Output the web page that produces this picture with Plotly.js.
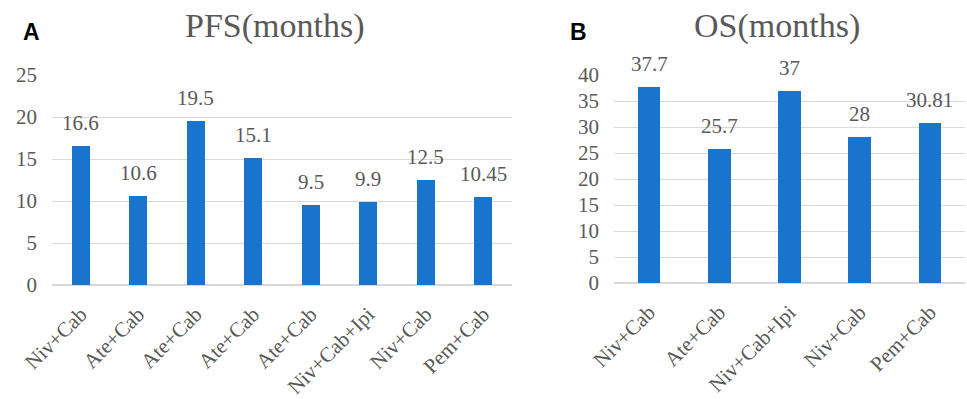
<!DOCTYPE html>
<html>
<head>
<meta charset="utf-8">
<script src="https://cdn.plot.ly/plotly-3.0.1.min.js"></script>
<style>
  html, body { margin: 0; padding: 0; background: #fff; }
  #chart { width: 967px; height: 399px; }
</style>
</head>
<body>
<div id="chart"></div>
<script>
// Panel A: progression-free survival by regimen
const pfsRegimens = ["Niv+Cab", "Ate+Cab", "Ate+Cab", "Ate+Cab", "Ate+Cab", "Niv+Cab+Ipi", "Niv+Cab", "Pem+Cab"];
const pfsMonths = [16.6, 10.6, 19.5, 15.1, 9.5, 9.9, 12.5, 10.45];
const pfsTicks = [0, 5, 10, 15, 20, 25];

// Panel B: overall survival by regimen
const osRegimens = ["Niv+Cab", "Ate+Cab", "Niv+Cab+Ipi", "Niv+Cab", "Pem+Cab"];
const osMonths = [37.7, 25.7, 37, 28, 30.81];
const osTicks = [0, 5, 10, 15, 20, 25, 30, 35, 40];

const BAR = "#1874cd";
const TEXT = "#595959";
const GRID = "#d9d9d9";
const SERIF = "'Liberation Serif', 'Times New Roman', Times, serif";

const idx = arr => arr.map((_, i) => i);

const pfsX = idx(pfsRegimens);
const osX = idx(osRegimens);

const traces = [
  {
    type: "bar", x: pfsX, y: pfsMonths, xaxis: "x", yaxis: "y",
    marker: { color: BAR }, width: 0.31, hoverinfo: "skip"
  },
  {
    type: "bar", x: osX, y: osMonths, xaxis: "x2", yaxis: "y2",
    marker: { color: BAR }, width: 0.32, hoverinfo: "skip"
  }
];

const valueLabels = (xs, ys, xref, yref) => xs.map((x, i) => ({
  x: x, y: ys[i], xref: xref, yref: yref,
  text: String(ys[i]), showarrow: false,
  yanchor: "bottom", yshift: 9,
  font: { family: SERIF, size: 21, color: TEXT }
}));

const baseY = {
  showgrid: true, gridcolor: GRID, gridwidth: 1,
  zeroline: true, zerolinecolor: GRID, zerolinewidth: 2,
  showline: false, ticks: "", ticklabelstandoff: 14,
  tickfont: { family: SERIF, size: 21, color: TEXT }, fixedrange: true
};
const baseX = {
  showgrid: false, zeroline: false, showline: false, ticks: "",
  tickangle: -45, ticklabelstandoff: 12,
  tickfont: { family: SERIF, size: 21, color: TEXT }, fixedrange: true
};

const layout = {
  width: 967, height: 399,
  margin: { l: 0, r: 0, t: 0, b: 0 },
  paper_bgcolor: "#fff", plot_bgcolor: "#fff",
  font: { family: SERIF, color: TEXT },
  showlegend: false, bargap: 0,
  xaxis: Object.assign({}, baseX, {
    domain: [52 / 967, 512 / 967], range: [-0.5, pfsX.length - 0.5],
    tickvals: pfsX, ticktext: pfsRegimens, anchor: "y"
  }),
  yaxis: Object.assign({}, baseY, {
    domain: [(399 - 285) / 399, (399 - 75) / 399], range: [0, 25],
    tickvals: pfsTicks, anchor: "x"
  }),
  xaxis2: Object.assign({}, baseX, {
    domain: [614 / 967, 965 / 967], range: [-0.5, osX.length - 0.5],
    tickvals: osX, ticktext: osRegimens, anchor: "y2"
  }),
  yaxis2: Object.assign({}, baseY, {
    domain: [(399 - 283) / 399, (399 - 75) / 399], range: [0, 40],
    tickvals: osTicks, anchor: "x2"
  }),
  annotations: [
    ...valueLabels(pfsX, pfsMonths, "x", "y"),
    ...valueLabels(osX, osMonths, "x2", "y2"),
    { x: 275 / 967, y: 1 - 26 / 399, xref: "paper", yref: "paper", showarrow: false,
      text: "PFS(months)", xanchor: "center", yanchor: "middle",
      font: { family: SERIF, size: 34, color: TEXT } },
    { x: 777 / 967, y: 1 - 26 / 399, xref: "paper", yref: "paper", showarrow: false,
      text: "OS(months)", xanchor: "center", yanchor: "middle",
      font: { family: SERIF, size: 34, color: TEXT } },
    { x: 31 / 967, y: 1 - 32 / 399, xref: "paper", yref: "paper", showarrow: false,
      text: "<b>A</b>", xanchor: "center", yanchor: "middle",
      font: { family: "'Liberation Sans', Arial, sans-serif", size: 23, color: "#000" } },
    { x: 578 / 967, y: 1 - 32 / 399, xref: "paper", yref: "paper", showarrow: false,
      text: "<b>B</b>", xanchor: "center", yanchor: "middle",
      font: { family: "'Liberation Sans', Arial, sans-serif", size: 23, color: "#000" } }
  ]
};

Plotly.newPlot("chart", traces, layout, { displayModeBar: false, staticPlot: true });
</script>
</body>
</html>
